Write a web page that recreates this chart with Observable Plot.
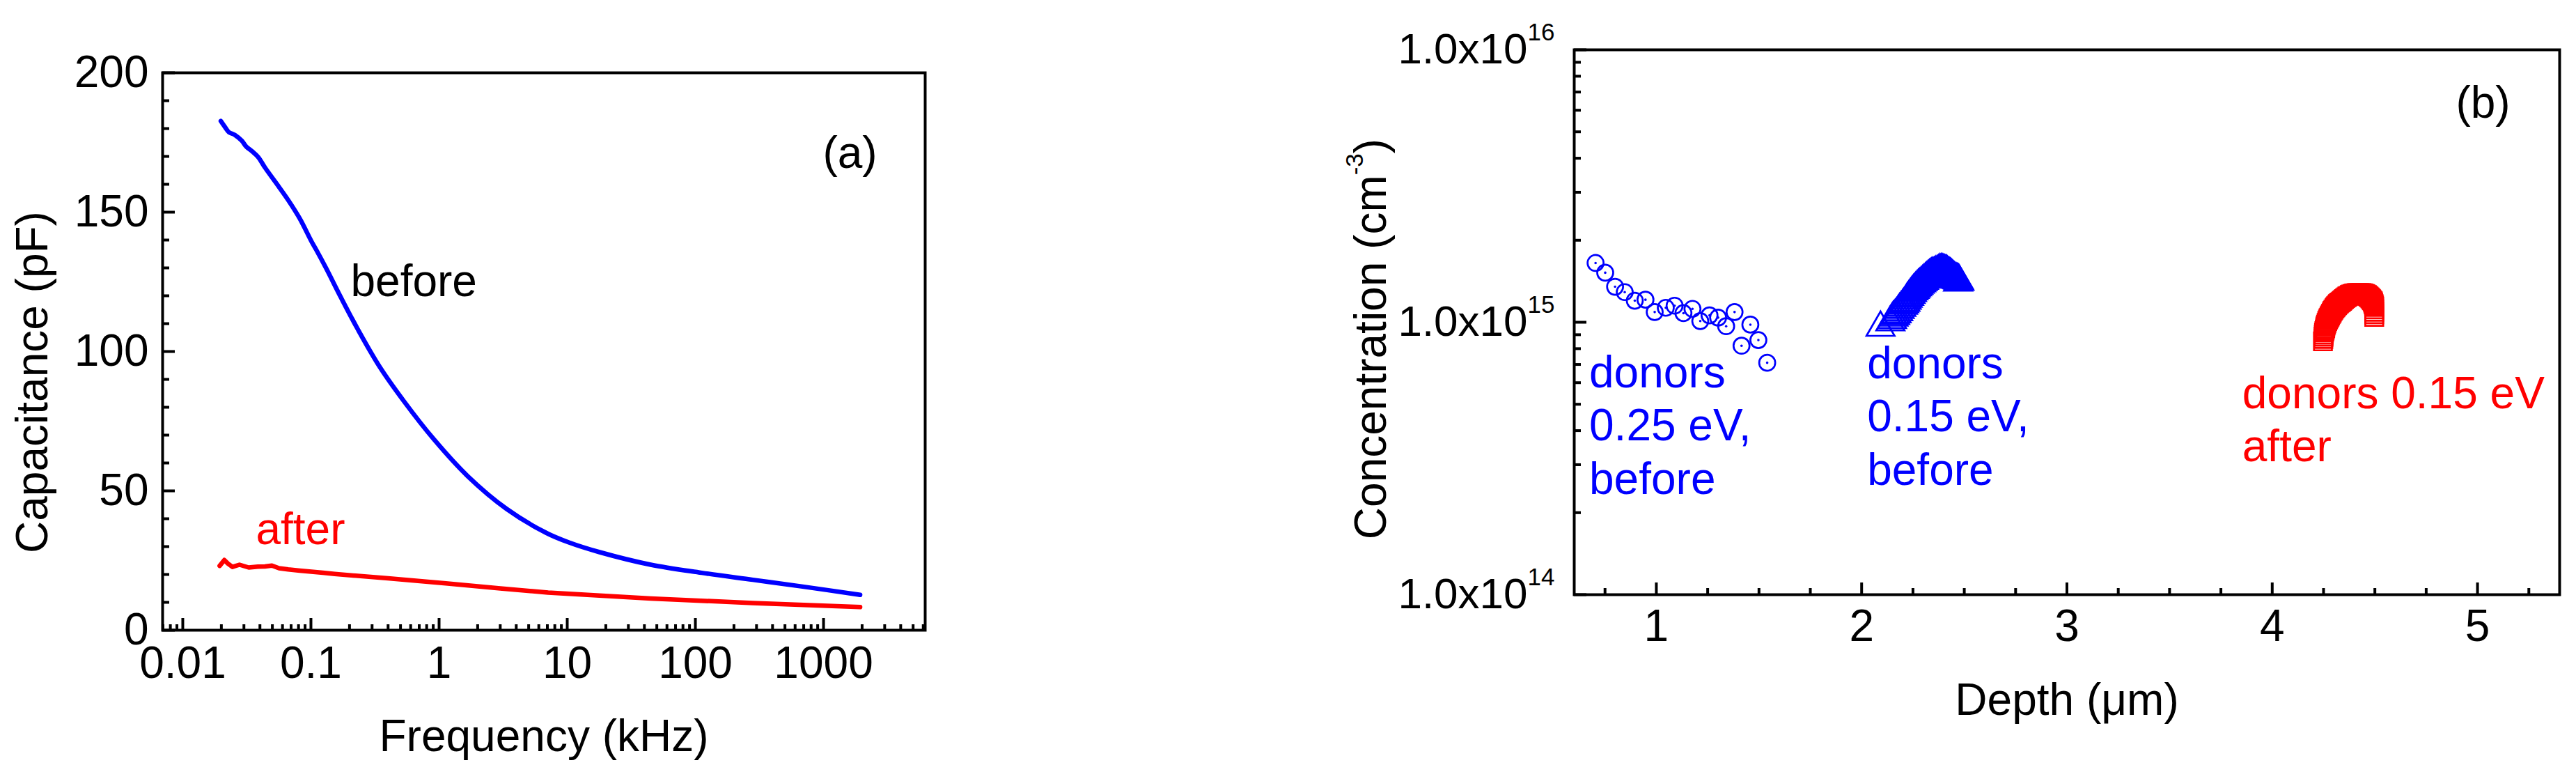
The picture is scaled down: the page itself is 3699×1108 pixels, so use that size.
<!DOCTYPE html>
<html>
<head>
<meta charset="utf-8">
<script src="https://cdn.jsdelivr.net/npm/d3@7"></script>
<script src="https://cdn.jsdelivr.net/npm/@observablehq/plot@0.6"></script>
<style>
html, body { margin: 0; padding: 0; background: #fff; overflow: hidden; }
#root { position: relative; width: 3699px; height: 1108px; overflow: hidden; background: #fff; }
#root svg { position: absolute; top: 0; }
</style>
</head>
<body>
<div id="root"></div>
<script>
// ---------------- Panel (a): capacitance vs frequency ----------------
const freqBefore = [0.0198, 0.0216, 0.0229, 0.0255, 0.0289, 0.0313, 0.0348, 0.0387, 0.0438, 0.054, 0.0665, 0.0818, 0.101, 0.110, 0.131, 0.171, 0.232, 0.344, 0.533, 0.903, 1.67, 3.37, 6.81, 10.3, 17.9, 44.8, 112, 280, 703, 1930];
const capBefore  = [182.7, 180.2, 178.7, 177.7, 175.6, 173.5, 171.8, 169.8, 166.0, 160.2, 154.3, 147.7, 139.5, 136.5, 130.0, 119.5, 108.0, 94.5, 82.1, 68.7, 55.3, 43.5, 35.0, 31.5, 28.0, 23.5, 20.6, 18.1, 15.6, 12.7];
const freqAfter  = [0.0194, 0.0211, 0.0225, 0.0244, 0.0277, 0.0327, 0.0386, 0.0438, 0.0496, 0.0563, 0.0665, 0.0818, 0.124, 0.153, 0.4, 1.13, 3.0, 7.1, 44.8, 280, 1930];
const capAfter   = [23.1, 25.2, 23.9, 22.7, 23.5, 22.5, 22.8, 22.9, 23.2, 22.25, 21.8, 21.4, 20.6, 20.2, 18.6, 16.8, 15.0, 13.5, 11.4, 9.75, 8.3];
const freqMajorTicks = [0.01, 0.1, 1, 10, 100, 1000];
const freqTickLabels = ["0.01", "0.1", "1", "10", "100", "1000"];
const capMajorTicks = [0, 50, 100, 150, 200];
const capTickLabels = ["0", "50", "100", "150", "200"];
const annotationsA = [
  {f: 0.204, c: 120, t: "before", color: "#000000"},
  {f: 0.0372, c: 31, t: "after", color: "#ff0000"}
];

// ---------------- Panel (b): concentration vs depth ----------------
const circDepth = [0.704, 0.751, 0.799, 0.846, 0.895, 0.947, 0.992, 1.046, 1.089, 1.132, 1.176, 1.214, 1.259, 1.301, 1.340, 1.381, 1.415, 1.458, 1.497, 1.540];
const circConc  = [1.65e15, 1.52e15, 1.35e15, 1.29e15, 1.20e15, 1.21e15, 1.09e15, 1.13e15, 1.15e15, 1.08e15, 1.12e15, 1.01e15, 1.06e15, 1.04e15, 0.967e15, 1.09e15, 0.82e15, 0.98e15, 0.86e15, 0.71e15];
const triDepth  = [2.092, 2.140, 2.148, 2.155, 2.163, 2.170, 2.178, 2.185, 2.193, 2.201, 2.207, 2.213, 2.219, 2.224, 2.231, 2.238, 2.245, 2.252, 2.258, 2.264, 2.270, 2.276, 2.283, 2.290, 2.297, 2.303, 2.310, 2.316, 2.323, 2.330, 2.336, 2.342, 2.348, 2.354, 2.361, 2.368, 2.375, 2.381, 2.387, 2.393, 2.399, 2.405, 2.410, 2.414, 2.418, 2.422, 2.426, 2.430, 2.435, 2.439, 2.443, 2.447, 2.452, 2.456, 2.461, 2.465, 2.469, 2.473, 2.470, 2.476];
const triConc   = [0.955e15, 1.00e15, 1.02e15, 1.04e15, 1.055e15, 1.07e15, 1.09e15, 1.11e15, 1.13e15, 1.15e15, 1.165e15, 1.18e15, 1.20e15, 1.22e15, 1.24e15, 1.26e15, 1.28e15, 1.30e15, 1.315e15, 1.33e15, 1.345e15, 1.36e15, 1.375e15, 1.39e15, 1.405e15, 1.42e15, 1.435e15, 1.45e15, 1.465e15, 1.48e15, 1.49e15, 1.50e15, 1.505e15, 1.51e15, 1.52e15, 1.53e15, 1.54e15, 1.55e15, 1.552e15, 1.55e15, 1.545e15, 1.54e15, 1.535e15, 1.53e15, 1.52e15, 1.51e15, 1.505e15, 1.50e15, 1.49e15, 1.48e15, 1.47e15, 1.46e15, 1.45e15, 1.44e15, 1.435e15, 1.43e15, 1.425e15, 1.42e15, 1.40e15, 1.41e15];
const sqDepth   = [4.247, 4.249, 4.250, 4.251, 4.252, 4.254, 4.256, 4.258, 4.259, 4.262, 4.265, 4.268, 4.272, 4.275, 4.279, 4.282, 4.286, 4.290, 4.294, 4.298, 4.303, 4.307, 4.311, 4.316, 4.320, 4.325, 4.330, 4.335, 4.340, 4.345, 4.350, 4.355, 4.361, 4.366, 4.372, 4.378, 4.384, 4.391, 4.398, 4.405, 4.412, 4.418, 4.424, 4.430, 4.435, 4.441, 4.446, 4.451, 4.456, 4.461, 4.465, 4.469, 4.473, 4.478, 4.482, 4.486, 4.490, 4.492, 4.494, 4.496, 4.497, 4.497, 4.497, 4.497, 4.497];
const sqConc    = [0.851e15, 0.868e15, 0.885e15, 0.900e15, 0.916e15, 0.928e15, 0.94e15, 0.953e15, 0.966e15, 0.980e15, 0.995e15, 1.010e15, 1.024e15, 1.036e15, 1.048e15, 1.060e15, 1.073e15, 1.086e15, 1.10e15, 1.112e15, 1.125e15, 1.135e15, 1.145e15, 1.155e15, 1.165e15, 1.174e15, 1.182e15, 1.190e15, 1.199e15, 1.208e15, 1.217e15, 1.226e15, 1.235e15, 1.243e15, 1.25e15, 1.258e15, 1.265e15, 1.269e15, 1.273e15, 1.277e15, 1.280e15, 1.280e15, 1.280e15, 1.280e15, 1.280e15, 1.277e15, 1.273e15, 1.269e15, 1.265e15, 1.258e15, 1.25e15, 1.243e15, 1.235e15, 1.225e15, 1.215e15, 1.204e15, 1.193e15, 1.180e15, 1.165e15, 1.152e15, 1.138e15, 1.115e15, 1.092e15, 1.070e15, 1.047e15];
const depthTicks = [1, 2, 3, 4, 5];
const depthMinorTicks = [0.75, 1.25, 1.5, 1.75, 2.25, 2.5, 2.75, 3.25, 3.5, 3.75, 4.25, 4.5, 4.75, 5.25];
const concMajorTicks = [1e14, 1e15, 1e16];
const concTickLabels = ["1.0x10^{14}", "1.0x10^{15}", "1.0x10^{16}"];
const annotationsB = [
  {d: 0.673, n: 7.97e14, t: "donors\n0.25 eV,\nbefore", color: "#0000ff"},
  {d: 2.027, n: 8.60e14, t: "donors\n0.15 eV,\nbefore", color: "#0000ff"},
  {d: 3.854, n: 6.68e14, t: "donors 0.15 eV\nafter", color: "#ff0000"}
];

// ---------------- helpers ----------------
const FONT = '"Liberation Sans", Arial, Helvetica, sans-serif';
const FS = 64;
const BLUE = "#0000ff", RED = "#ff0000";
const before = freqBefore.map((f, i) => ({f, c: capBefore[i]}));
const after = freqAfter.map((f, i) => ({f, c: capAfter[i]}));
const circles = circDepth.map((d, i) => ({d, n: circConc[i]}));
const triangles = triDepth.map((d, i) => ({d, n: triConc[i]}));
const squares = sqDepth.map((d, i) => ({d, n: sqConc[i]}));
const freqLabel = new Map(freqMajorTicks.map((v, i) => [v, freqTickLabels[i]]));
const capLabel = new Map(capMajorTicks.map((v, i) => [v, capTickLabels[i]]));
const concLabel = new Map(concMajorTicks.map((v, i) => [v, concTickLabels[i]]));

const xDomainA = [0.00696, 6210];
const freqMinorTicks = [0.001, 0.01, 0.1, 1, 10, 100, 1000]
  .flatMap(p => [2, 3, 4, 5, 6, 7, 8, 9].map(k => k * p))
  .filter(v => v > xDomainA[0] && v < xDomainA[1]);
const capMinorTicks = d3.range(0, 201, 10).filter(v => v % 50 !== 0);
const concMinorTicks = [1e14, 1e15].flatMap(p => [2, 3, 4, 5, 6, 7, 8, 9].map(k => k * p));

function applySup(svg, supSize, raise) {
  const ns = "http://www.w3.org/2000/svg";
  svg.querySelectorAll("text").forEach(t => {
    const m = t.textContent.match(/^(.*)\^\{(.*?)\}(.*)$/);
    if (!m) return;
    t.textContent = "";
    const a = document.createElementNS(ns, "tspan"); a.textContent = m[1]; t.appendChild(a);
    const b = document.createElementNS(ns, "tspan"); b.textContent = m[2];
    b.setAttribute("dy", -raise); b.setAttribute("font-size", supSize); t.appendChild(b);
    if (m[3]) {
      const c = document.createElementNS(ns, "tspan"); c.textContent = m[3];
      c.setAttribute("dy", raise); t.appendChild(c);
    }
  });
}

// ---------------- Panel (a) plot ----------------
const WA = 1850, H = 1108;
const mA = {l: 233, r: 522, t: 104, b: 204};
const innerWA = WA - mA.l - mA.r, innerHA = H - mA.t - mA.b;
const plotA = Plot.plot({
  width: WA, height: H,
  marginLeft: mA.l, marginRight: mA.r, marginTop: mA.t, marginBottom: mA.b,
  style: {fontFamily: FONT, background: "white", maxWidth: "none", overflow: "visible", color: "black"},
  x: {type: "log", domain: xDomainA, axis: null},
  y: {domain: [0, 200], axis: null},
  marks: [
    Plot.tickX(freqMinorTicks, {x: d => d, stroke: "black", strokeWidth: 4, insetTop: innerHA - 8}),
    Plot.tickX(freqMajorTicks, {x: d => d, stroke: "black", strokeWidth: 4, insetTop: innerHA - 17}),
    Plot.tickY(capMinorTicks, {y: d => d, stroke: "black", strokeWidth: 4, insetRight: innerWA - 10}),
    Plot.tickY(capMajorTicks, {y: d => d, stroke: "black", strokeWidth: 4, insetRight: innerWA - 18}),
    Plot.axisX(freqMajorTicks, {tickSize: 0, tickPadding: 23, fontSize: FS, label: null, tickFormat: d => freqLabel.get(d)}),
    Plot.axisY(capMajorTicks, {tickSize: 0, tickPadding: 20, fontSize: FS, label: null, tickFormat: d => capLabel.get(d)}),
    Plot.frame({stroke: "black", strokeWidth: 4}),
    Plot.line(before, {x: "f", y: "c", stroke: BLUE, strokeWidth: 6.5, curve: "catmull-rom", strokeLinejoin: "round", strokeLinecap: "round"}),
    Plot.line(after, {x: "f", y: "c", stroke: RED, strokeWidth: 6.5, strokeLinejoin: "round", strokeLinecap: "round"}),
    Plot.text(annotationsA, {x: "f", y: "c", text: "t", fill: "color", textAnchor: "start", lineAnchor: "bottom", fontSize: FS}),
    Plot.text(["(a)"], {text: d => d, frameAnchor: "top-right", dx: -108, dy: 136, textAnchor: "middle", lineAnchor: "bottom", fontSize: FS, fill: "black"}),
    Plot.text(["Frequency (kHz)"], {text: d => d, frameAnchor: "bottom", dy: 173, textAnchor: "middle", lineAnchor: "bottom", fontSize: FS, fill: "black"}),
    Plot.text(["Capacitance (pF)"], {text: d => d, frameAnchor: "left", dx: -186, dy: 44, rotate: -90, textAnchor: "middle", lineAnchor: "middle", fontSize: FS, fill: "black"})
  ]
});
plotA.style.left = "0px";

// ---------------- Panel (b) plot ----------------
const WB = 1849;
const mB = {l: 410, r: 24, t: 71, b: 255};
const innerWB = WB - mB.l - mB.r, innerHB = H - mB.t - mB.b;
const plotB = Plot.plot({
  width: WB, height: H,
  marginLeft: mB.l, marginRight: mB.r, marginTop: mB.t, marginBottom: mB.b,
  style: {fontFamily: FONT, background: "white", maxWidth: "none", overflow: "visible", color: "black"},
  x: {domain: [0.6, 5.4], axis: null},
  y: {type: "log", domain: [1e14, 1e16], axis: null},
  marks: [
    Plot.tickX(depthMinorTicks, {x: d => d, stroke: "black", strokeWidth: 4, insetTop: innerHB - 9}),
    Plot.tickX(depthTicks, {x: d => d, stroke: "black", strokeWidth: 4, insetTop: innerHB - 17}),
    Plot.tickY(concMinorTicks, {y: d => d, stroke: "black", strokeWidth: 4, insetRight: innerWB - 10}),
    Plot.tickY(concMajorTicks, {y: d => d, stroke: "black", strokeWidth: 4, insetRight: innerWB - 18}),
    Plot.axisX(depthTicks, {tickSize: 0, tickPadding: 21, fontSize: FS, label: null, tickFormat: d => String(d)}),
    Plot.axisY(concMajorTicks, {tickSize: 0, tickPadding: 28, fontSize: 62, label: null, tickFormat: d => concLabel.get(d)}),
    Plot.frame({stroke: "black", strokeWidth: 4}),
    Plot.dot(circles, {x: "d", y: "n", r: 11.5, stroke: BLUE, strokeWidth: 2.7, fill: "none"}),
    Plot.dot(circles, {x: "d", y: "n", r: 1.8, fill: BLUE, stroke: "none"}),
    Plot.dot(triangles, {x: "d", y: "n", symbol: "triangle", r: 15, stroke: BLUE, strokeWidth: 2.7, fill: "none"}),
    Plot.dot(squares, {x: "d", y: "n", symbol: "square", r: 14.5, stroke: RED, strokeWidth: 2.7, fill: "none"}),
    Plot.text(annotationsB, {x: "d", y: "n", text: "t", fill: "color", textAnchor: "start", lineAnchor: "top", lineHeight: 1.2, fontSize: FS}),
    Plot.text(["(b)"], {text: d => d, frameAnchor: "top-right", dx: -110, dy: 97, textAnchor: "middle", lineAnchor: "bottom", fontSize: FS, fill: "black"}),
    Plot.text(["Depth (\u03bcm)"], {text: d => d, frameAnchor: "bottom", dy: 172, textAnchor: "middle", lineAnchor: "bottom", fontSize: FS, fill: "black"}),
    Plot.text(["Concentration (cm^{-3})"], {text: d => d, frameAnchor: "left", dx: -291, dy: 24, rotate: -90, textAnchor: "middle", lineAnchor: "middle", fontSize: FS, fill: "black"})
  ]
});
plotB.style.left = "1850px";
applySup(plotB, 35, 33);

const root = document.getElementById("root");
root.appendChild(plotA);
root.appendChild(plotB);
</script>
</body>
</html>
